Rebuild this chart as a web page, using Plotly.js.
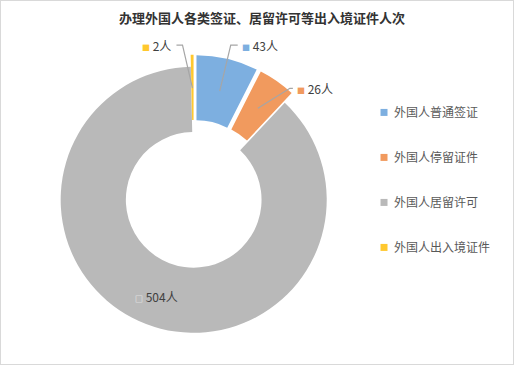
<!DOCTYPE html>
<html><head><meta charset="utf-8">
<script src="https://cdn.plot.ly/plotly-3.0.1.min.js"></script>
<style>
html,body{margin:0;padding:0;background:#fff;}
#wrap{width:514px;height:365px;box-sizing:border-box;border:1px solid #D9D9D9;}
#chart{width:512px;height:363px;}
</style></head><body><div id="wrap"><div id="chart"></div></div>
<script>
const categories = ['外国人普通签证','外国人停留证件','外国人居留许可','外国人出入境证件'];
const values = [43, 26, 504, 2];
const unit = '人';
const titleText = '办理外国人各类签证、居留许可等出入境证件人次';

const colors = ['#7DAFE0','#F19A5E','#B9B9B9','#FFC82E'];
const keyColors = ['#7DAFE0','#F19A5E','#FFFFFF','#FFC82E'];
const pulls = [0.09, 0.09, 0, 0.09];

const W = 512, H = 363;
const CX = 192.7, CY = 198.8, HALF = 145;
const maxPull = Math.max(...pulls);
const R = HALF / (1 + maxPull);
const dom = {x:[(CX-HALF)/W,(CX+HALF)/W], y:[(H-CY-HALF)/H,(H-CY+HALF)/H]};

const total = values.reduce((a,b)=>a+b,0);
let cum = 0;
const mids = values.map(v => { const m = (cum + v/2)/total*2*Math.PI; cum += v; return m; });

// leader-line layout (pixel offsets from each slice's anchor point)
const elbowOff = [[11,-46],[32,-20],null,[-10,-43]];
const endOff   = [[18,-46],[35,-20],null,[-16,-43]];
const labelOff = [[20,-46],[37,-20],null,[-19,-43]];
const font = 'Noto Sans CJK SC, Microsoft YaHei, sans-serif';
const toPx = (x,y) => [x/W, 1 - y/H];

const annotations = [], shapes = [];
values.forEach((v,i) => {
  const inside = elbowOff[i] === null;
  const rr = inside ? 0.78 : (0.75 + pulls[i]);
  const px = CX + rr*R*Math.sin(mids[i]);
  const py = CY - rr*R*Math.cos(mids[i]);
  const txt = `<span style="font-size:8px;color:${keyColors[i]}">${inside?'□':'■'}</span> ${v}${unit}`;
  const base = {xref:'paper', yref:'paper', showarrow:false, text:txt,
    font:{family:font, size:12, color:'#404040'}};
  if (inside) {
    const [x,y] = toPx(px, py);
    annotations.push(Object.assign(base, {x:x, y:y, xanchor:'center', yanchor:'middle'}));
  } else {
    const right = labelOff[i][0] < 0;
    const [lx,ly] = toPx(px+labelOff[i][0], py+labelOff[i][1]);
    annotations.push(Object.assign(base, {x:lx, y:ly, xanchor:right?'right':'left', yanchor:'middle'}));
    const p0 = toPx(px,py), p1 = toPx(px+elbowOff[i][0], py+elbowOff[i][1]), p2 = toPx(px+endOff[i][0], py+endOff[i][1]);
    shapes.push({type:'path', xref:'paper', yref:'paper', layer:'above',
      path:`M ${p0[0].toFixed(4)},${p0[1].toFixed(4)} L ${p1[0].toFixed(4)},${p1[1].toFixed(4)} L ${p2[0].toFixed(4)},${p2[1].toFixed(4)}`,
      line:{color:'#A6A6A6', width:1.2}});
  }
});

const data = [{
  type:'pie', labels: categories, values: values,
  sort:false, direction:'clockwise', rotation:0, hole:0.51, pull:pulls,
  marker:{colors:colors, line:{width:0}}, textinfo:'none', hoverinfo:'none',
  domain: dom
}];

const layout = {
  width:W, height:H, margin:{l:0,r:0,t:0,b:0}, paper_bgcolor:'#fff',
  title:{text:'<b>'+titleText+'</b>', x:0.51, xanchor:'center', y:1-17/H, yanchor:'middle', yref:'container',
    font:{family:font, size:13, color:'#333333'}},
  showlegend:true,
  legend:{x:0.709, xanchor:'left', y:0.733, yanchor:'top', valign:'middle',
    font:{family:font, size:12, color:'#595959'}, bgcolor:'rgba(0,0,0,0)'},
  annotations: annotations, shapes: shapes
};
const legendStep = 45;

Plotly.newPlot('chart', data, layout, {staticPlot:true}).then(gd => {
  const sb = gd.querySelector('.legend .scrollbox');
  if (sb) sb.removeAttribute('clip-path');
  const traces = gd.querySelectorAll('.legend .traces');
  let x0 = null, y0 = null;
  traces.forEach((t,i) => {
    const m = /translate\(\s*([-\d.]+)[ ,]+([-\d.]+)\s*\)/.exec(t.getAttribute('transform') || '');
    if (m && x0 === null) { x0 = parseFloat(m[1]); y0 = parseFloat(m[2]); }
    if (x0 !== null) t.setAttribute('transform', `translate(${x0},${y0 + i*legendStep})`);
    const p = t.querySelector('path.legendpie');
    if (p) { p.setAttribute('d','M3.5,3.5H-3.5V-3.5H3.5Z'); p.style.strokeWidth = '0'; }
    const tx = t.querySelector('text.legendtext');
    if (tx) tx.setAttribute('x', '30');
  });
});
</script></body></html>
